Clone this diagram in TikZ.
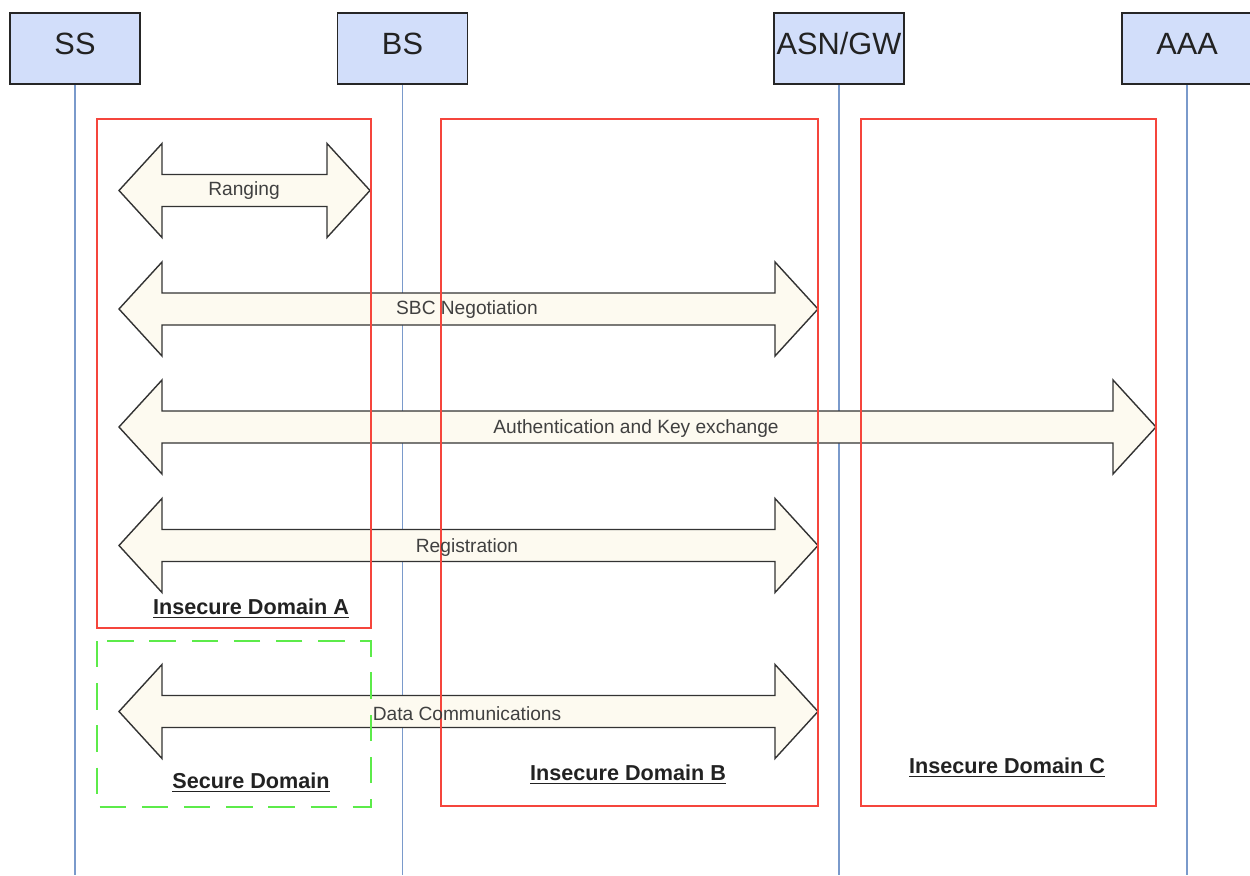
\documentclass[tikz,border=0pt]{standalone}
\usepackage{fontspec}
\setmainfont{Liberation Sans}
\definecolor{hdrfill}{HTML}{D2DEFA}
\definecolor{life}{HTML}{7A9ACB}
\definecolor{arrfill}{HTML}{FDFAF0}
\definecolor{dred}{HTML}{F5453C}
\definecolor{dgreen}{HTML}{5CEB4A}
\definecolor{txt}{HTML}{222222}
\tikzset{
  hdr/.style={draw=black!85, line width=1.1pt, fill=hdrfill, minimum width=130*0.02cm, minimum height=71*0.02cm, inner sep=0pt, font=\fontsize{17.5}{20}\selectfont, text=txt, text height=0.72em, text depth=0.02em},
  lifeline/.style={draw=life, line width=0.85pt},
  arr/.style={draw=black!80, line width=0.8pt, fill=arrfill, line join=miter},
  lbl/.style={font=\fontsize{10.9}{13}\selectfont, text=black!75, inner sep=0pt},
  dom/.style={draw=dred, line width=1.1pt},
  sec/.style={draw=dgreen, line width=1.2pt, dash pattern=on 15pt off 9pt},
  domlbl/.style={font=\bfseries\fontsize{12.3}{14}\selectfont, text=txt, inner sep=0pt}
}
\newcommand\dblarr[3]{%
  \draw[arr] (#1,#3) -- (#1+43,#3-47) -- (#1+43,#3-16) -- (#2-43,#3-16) -- (#2-43,#3-47) -- (#2,#3) -- (#2-43,#3+47) -- (#2-43,#3+16) -- (#1+43,#3+16) -- (#1+43,#3+47) -- cycle;}
\begin{document}
\begin{tikzpicture}[x=0.02cm,y=-0.02cm]
\useasboundingbox (0,0) rectangle (1250,875);
% headers
\node[hdr] (ss)  at (75,48.5)   {SS};
\node[hdr] (bs)  at (402.5,48.5) {BS};
\node[hdr] (asn) at (839,48.5)  {ASN/GW};
\node[hdr] (aaa) at (1187,48.5) {AAA};
% lifelines
\coordinate (ssE) at (75,875);
\coordinate (bsE) at (402.5,875);
\coordinate (asnE) at (839,875);
\coordinate (aaaE) at (1187,875);
\draw[lifeline] (ss.south) -- (ssE);
\draw[lifeline] (bs.south) -- (bsE);
\draw[lifeline] (asn.south) -- (asnE);
\draw[lifeline] (aaa.south) -- (aaaE);
% arrows
\dblarr{119}{370}{190.5}
\dblarr{119}{818}{309}
\dblarr{119}{1156}{427}
\dblarr{119}{818}{545.5}
\dblarr{119}{818}{711.5}
% domains
\draw[dom] (97,119) rectangle (371,628);
\draw[dom] (441,119) rectangle (818,806);
\draw[dom] (861,119) rectangle (1156,806);
\draw[sec] (97,641) rectangle (371,807);
% arrow labels
\node[lbl] (l1) at (244,191) {Ranging};
\node[lbl] (l2) at (467,310) {SBC Negotiation};
\node[lbl] (l3) at (636,429) {Authentication and Key exchange};
\node[lbl] (l4) at (467,548) {Registration};
\node[lbl] (l5) at (467,714) {Data Communications};
% domain labels
\node[domlbl] (da) at (251,609) {\underline{Insecure Domain A}};
\node[domlbl] (ds) at (251,783) {\underline{Secure Domain}};
\node[domlbl] (db) at (628,775) {\underline{Insecure Domain B}};
\node[domlbl] (dc) at (1007,768) {\underline{Insecure Domain C}};
\end{tikzpicture}
\end{document}
